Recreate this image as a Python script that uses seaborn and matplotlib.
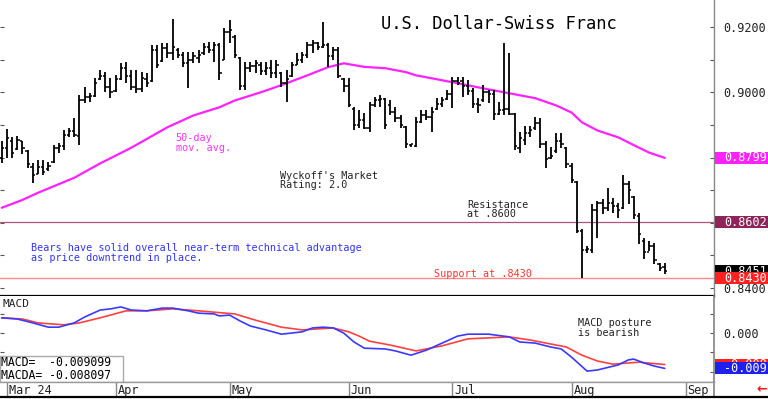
import numpy as np
import pandas as pd
import matplotlib
matplotlib.use("Agg")
import matplotlib.pyplot as plt
import matplotlib.transforms as mtransforms
from matplotlib.patches import Rectangle
from matplotlib.lines import Line2D
import seaborn as sns

# ---------------- data ----------------
highs = [.8852, .8889, .8862, .8865, .8852, .8822, .8782, .8791, .8791, .8785,
         .8837, .8846, .8883, .8892, .8920, .8991, .9015, .8997, .9043, .9068,
         .9062, .9043, .9052, .9089, .9092, .9068, .9068, .9062, .9058, .9145,
         .9145, .9151, .9151, .9225, .9135, .9123, .9123, .9123, .9129, .9151,
         .9154, .9154, .9151, .9197, .9222, .9175, .9108, .9092, .9092, .9098,
         .9092, .9092, .9098, .9098, .9062, .9068, .9092, .9120, .9123, .9154,
         .9160, .9154, .9215, .9151, .9138, .9138, .9043, .9043, .8954, .8945,
         .8938, .8969, .8985, .8991, .8982, .8975, .8954, .8929, .8898, .8843,
         .8923, .8945, .8945, .8954, .8982, .8985, .9006, .9046, .9046, .9046,
         .9037, .9012, .8982, .9022, .9006, .9006, .8969, .9151, .9120, .8938,
         .8877, .8898, .8898, .8923, .8920, .8852, .8831, .8874, .8874, .8831,
         .8782, .8729, .8582, .8529, .8658, .8668, .8674, .8708, .8677, .8662,
         .8745, .8729, .8683, .8631, .8554, .8545, .8538, .8477, .8477]
lows = [.8782, .8800, .8800, .8822, .8812, .8769, .8723, .8751, .8745, .8760,
        .8782, .8815, .8822, .8862, .8862, .8837, .8966, .8969, .8985, .9037,
        .9000, .8982, .9000, .9037, .9028, .9006, .8997, .9000, .9015, .9031,
        .9074, .9092, .9105, .9098, .9105, .9077, .9012, .9089, .9089, .9114,
        .9120, .9092, .9037, .9098, .9151, .9105, .9006, .9006, .9062, .9058,
        .9052, .9052, .9043, .9043, .9015, .8969, .9046, .9083, .9089, .9105,
        .9120, .9129, .9135, .9077, .9098, .9043, .9000, .8954, .8883, .8892,
        .8889, .8877, .8954, .8954, .8889, .8929, .8908, .8892, .8828, .8831,
        .8831, .8905, .8914, .8877, .8945, .8954, .8975, .8951, .9022, .8985,
        .8991, .8951, .8938, .8969, .8966, .8914, .8929, .8929, .8929, .8822,
        .8815, .8837, .8862, .8883, .8828, .8769, .8797, .8815, .8828, .8769,
        .8723, .8569, .8430, .8508, .8508, .8554, .8628, .8637, .8631, .8615,
        .8643, .8658, .8612, .8535, .8489, .8514, .8474, .8452, .8443]
opens = [.8800, .8830, .8850, .8825, .8850, .8820, .8770, .8750, .8770, .8765,
         .8785, .8830, .8835, .8870, .8880, .8865, .8975, .8985, .8990, .9040,
         .9050, .9015, .9005, .9040, .9075, .9050, .9015, .9010, .9040, .9035,
         .9130, .9095, .9135, .9120, .9130, .9115, .9090, .9100, .9105, .9120,
         .9140, .9130, .9145, .9100, .9185, .9170, .9105, .9020, .9075, .9080,
         .9085, .9065, .9075, .9060, .9060, .9030, .9050, .9085, .9100, .9115,
         .9145, .9150, .9140, .9145, .9110, .9130, .9040, .9020, .8950, .8900,
         .8915, .8890, .8960, .8975, .8980, .8960, .8940, .8920, .8895, .8838,
         .8835, .8910, .8930, .8925, .8950, .8965, .8980, .8995, .9035, .9035,
         .9020, .9005, .8965, .8975, .9000, .8995, .8935, .8945, .8950, .8935,
         .8830, .8855, .8875, .8890, .8905, .8840, .8800, .8820, .8850, .8830,
         .8775, .8725, .8575, .8515, .8515, .8640, .8660, .8645, .8660, .8650,
         .8645, .8720, .8680, .8620, .8545, .8510, .8530, .8475, .8465]
closes = [.8830, .8860, .8815, .8855, .8830, .8780, .8745, .8770, .8755, .8775,
          .8830, .8835, .8870, .8880, .8870, .8975, .8985, .8990, .9030, .9050,
          .9015, .9000, .9040, .9075, .9050, .9015, .9010, .9045, .9030, .9130,
          .9085, .9135, .9120, .9140, .9115, .9090, .9100, .9110, .9115, .9140,
          .9130, .9145, .9060, .9185, .9190, .9115, .9020, .9075, .9080, .9090,
          .9065, .9075, .9060, .9085, .9030, .9040, .9085, .9100, .9115, .9145,
          .9150, .9140, .9145, .9110, .9130, .9050, .9020, .8960, .8900, .8915,
          .8890, .8960, .8975, .8980, .8900, .8940, .8920, .8900, .8840, .8840,
          .8910, .8930, .8925, .8940, .8965, .8975, .8995, .9035, .9030, .9020,
          .9005, .8965, .8960, .9000, .8995, .8935, .8945, .8950, .8935, .8835,
          .8860, .8875, .8885, .8905, .8840, .8795, .8805, .8850, .8840, .8780,
          .8730, .8575, .8515, .8520, .8640, .8660, .8645, .8660, .8650, .8640,
          .8720, .8700, .8625, .8565, .8510, .8530, .8485, .8460, .8451]

ma_idx = [0, 4, 7, 14, 19, 25, 32, 37, 42, 45, 50, 54, 59, 63, 66, 70, 74, 78, 80,
          87, 93, 98, 103, 107, 110, 112, 115, 119, 121, 125, 128]
ma_vals = [.8646, .8670, .8692, .8738, .8782, .8830, .8893, .8929, .8954, .8975,
           .9000, .9022, .9052, .9077, .9089, .9078, .9074, .9062, .9052, .9031,
           .9012, .8997, .8982, .8960, .8938, .8908, .8883, .8862, .8846, .8815, .8799]

macd_idx = [0, 3, 6, 9, 11, 14, 16, 19, 21, 23, 25, 28, 31, 33, 36, 38, 41, 42, 44, 46,
            48, 51, 54, 58, 60, 62, 64, 66, 68, 70, 74, 76, 79, 82, 85, 88, 90, 94, 98, 100,
            103, 106, 108, 110, 113, 115, 119, 121, 122, 124, 126, 128]
macd_vals = [.0039, .0036, .0026, .0015, .0015, .0026, .0041, .0059, .0062, .0067,
             .0059, .0057, .0064, .0064, .0057, .0051, .0049, .0044, .0046, .0031,
             .0018, .0008, -.0003, .0003, .0013, .0015, .0013, .0000, -.0023, -.0039,
             -.0041, -.0046, -.0057, -.0044, -.0026, -.0008, -.0003, -.0003, -.0010, -.0023,
             -.0026, -.0036, -.0041, -.0062, -.0098, -.0095, -.0082, -.0069, -.0067, -.0077,
             -.0085, -.0091]
sig_idx = [0, 4, 7, 12, 15, 19, 24, 28, 33, 38, 45, 49, 54, 58, 64, 67, 69, 71, 75, 80,
           85, 90, 98, 102, 109, 112, 115, 118, 123, 128]
sig_vals = [.0039, .0036, .0026, .0021, .0026, .0039, .0057, .0057, .0062, .0057,
            .0049, .0033, .0015, .0008, .0013, .0003, -.0008, -.0021, -.0031, -.0046,
            -.0033, -.0015, -.0010, -.0018, -.0036, -.0057, -.0072, -.0080, -.0075, -.0081]

month_pos = [1, 22, 44, 67, 87, 110, 132]
month_labels = ["Mar 24", "Apr", "May", "Jun", "Jul", "Aug", "Sep"]

resistance = 0.8602
support = 0.8430
last_close = 0.8451
last_ma = 0.8799
macd_last = -0.009099
macda_last = -0.008097

# ---------------- style ----------------
sns.set_theme(style="white")
plt.rcParams["font.family"] = ["DejaVu Sans Mono", "DejaVu Sans"]

W, H = 768, 399
fig = plt.figure(figsize=(W / 100, H / 100), dpi=100)


def px_rect(x0, y0, x1, y1):
    return [x0 / W, 1 - y1 / H, (x1 - x0) / W, (y1 - y0) / H]


ax = fig.add_axes(px_rect(0, 0, 714, 296))
axm = fig.add_axes(px_rect(0, 296, 714, 382))
axd = fig.add_axes(px_rect(0, 382, 714, 397))

XL = (-0.33, 137.5)
for a in (ax, axm, axd):
    a.set_xlim(*XL)
    a.set_facecolor("white")
    a.set_xticks([])
    a.grid(False)

# ---------------- price panel ----------------
x = np.arange(len(closes))
ax.vlines(x, lows, highs, color="black", lw=1.3, zorder=3)
ax.hlines(opens, x - 0.45, x, color="black", lw=1.1, zorder=3)
ax.hlines(closes, x, x + 0.45, color="black", lw=1.1, zorder=3)

sns.lineplot(x=ma_idx, y=ma_vals, ax=ax, color="#ff22ff", lw=1.6, zorder=2)

ax.axhline(resistance, color="#a8567e", lw=0.9, zorder=1)
ax.axhline(support, color="#ff8a8a", lw=1.0, zorder=1)

ax.set_ylim(0.83754, 0.92831)
yt = [0.84, 0.85, 0.86, 0.87, 0.88, 0.89, 0.90, 0.91, 0.92]
ax.set_yticks(yt)
ax.set_yticklabels(["0.8400", "", "", "", "", "", "0.9000", "", "0.9200"])
ax.yaxis.tick_right()
ax.tick_params(axis="y", which="both", left=True, right=True, direction="in",
               length=3, width=0.8, color="#555555", labelleft=False,
               labelright=True, pad=7, labelsize=8.5, labelcolor="#222222")
ax.set_xlabel("")
ax.set_ylabel("")
for s in ("top", "left"):
    ax.spines[s].set_visible(False)
ax.spines["right"].set_color("#888888")
ax.spines["right"].set_linewidth(1.0)
ax.spines["bottom"].set_color("black")
ax.spines["bottom"].set_linewidth(1.6)


def label_box(a, val, txt, fc, tc, h, z):
    tr = mtransforms.blended_transform_factory(a.transAxes, a.transData)
    a.add_patch(Rectangle((1.0015, val - h / 2), 0.0755, h, transform=tr,
                          facecolor=fc, edgecolor="none", clip_on=False, zorder=z))
    a.text(1.0 + 10 / 714, val, txt, transform=tr, color=tc, fontsize=8.5,
           va="center", ha="left", clip_on=False, zorder=z + 0.5)


hp = 12 / 3250
label_box(ax, last_ma, "0.8799", "#ff22ff", "white", hp, 10)
label_box(ax, resistance, "0.8602", "#8e2458", "white", hp, 10)
label_box(ax, last_close, "0.8451", "black", "white", hp, 10)
label_box(ax, support, "0.8430", "#ff2020", "white", hp, 12)

ax.text(73.2, 0.9209, "U.S. Dollar-Swiss Franc", fontsize=12.3, color="black",
        ha="left", va="center")
ax.text(33.6, 0.8874, "50-day\nmov. avg.", fontsize=7.3, color="#ff33ff",
        ha="left", va="top", linespacing=0.95)
ax.text(53.8, 0.8760, "Wyckoff's Market\nRating: 2.0", fontsize=7.3,
        color="#222222", ha="left", va="top", linespacing=0.95)
ax.text(89.8, 0.8671, "Resistance\nat .8600", fontsize=7.3, color="#222222",
        ha="left", va="top", linespacing=0.95)
ax.text(5.65, 0.8538,
        "Bears have solid overall near-term technical advantage\nas price downtrend in place.",
        fontsize=7.3, color="#3333ff", ha="left", va="top", linespacing=0.95)
ax.text(83.4, 0.8458, "Support at .8430", fontsize=7.3, color="#ff3333",
        ha="left", va="top")

# ---------------- MACD panel ----------------
sns.lineplot(x=sig_idx, y=sig_vals, ax=axm, color="#ff4040", lw=1.2, zorder=3)
sns.lineplot(x=macd_idx, y=macd_vals, ax=axm, color="#3a3aff", lw=1.2, zorder=4)
axm.set_ylim(-0.01259, 0.00951)
axm.set_yticks([-0.01, -0.005, 0.0, 0.005])
axm.set_yticklabels(["", "", "0.000", ""])
axm.yaxis.tick_right()
axm.tick_params(axis="y", which="both", left=True, right=True, direction="in",
                length=3, width=0.8, color="#555555", labelleft=False,
                labelright=True, pad=7, labelsize=8.5, labelcolor="#222222")
axm.set_xlabel("")
axm.set_ylabel("")
for s in ("top", "left"):
    axm.spines[s].set_visible(False)
axm.spines["right"].set_color("#888888")
axm.spines["bottom"].set_color("#999999")
axm.spines["bottom"].set_linewidth(1.0)

hm = 12 * 0.000257
label_box(axm, macda_last, "-0.008", "#ff2020", "white", hm, 10)
label_box(axm, macd_last, "-0.009", "#2020ee", "white", hm, 12)

axm.text(0.06, 0.00874, "MACD", fontsize=8, color="#222222", ha="left", va="top")
axm.text(111.3, 0.00386, "MACD posture\nis bearish", fontsize=7.3,
         color="#222222", ha="left", va="top", linespacing=0.95)

axm.add_patch(Rectangle((0, 0), 123 / 714, 26 / 86, transform=axm.transAxes,
                        facecolor="white", edgecolor="#aaaaaa", lw=1.0, zorder=6))
axm.text(0.002, 0.15, "MACD=  %.6f\nMACDA= %.6f" % (macd_last, macda_last),
         transform=axm.transAxes, fontsize=8.3, color="black", ha="left",
         va="center", linespacing=0.95, zorder=7)

# ---------------- date strip ----------------
axd.set_ylim(0, 1)
axd.set_yticks([])
axd.vlines(month_pos, 0, 1, color="#888888", lw=1.0)
for p, lab in zip(month_pos, month_labels):
    axd.text(p + 0.35, 0.45, lab, fontsize=8.6, color="#222222", ha="left",
             va="center")
axd.spines["left"].set_visible(False)
axd.spines["top"].set_color("#999999")
axd.spines["top"].set_linewidth(1.0)
axd.spines["bottom"].set_visible(False)
axd.spines["right"].set_color("#888888")

fig.add_artist(Line2D([0, 1], [1.6 / H, 1.6 / H], color="black", lw=1.6,
                      transform=fig.transFigure))
fig.text(762 / W, 1 - 389 / H, "\u2190", color="#ff1010", fontsize=9,
         fontweight="bold", ha="center", va="center", family="DejaVu Sans")

fig.savefig("out.png", dpi=100)
